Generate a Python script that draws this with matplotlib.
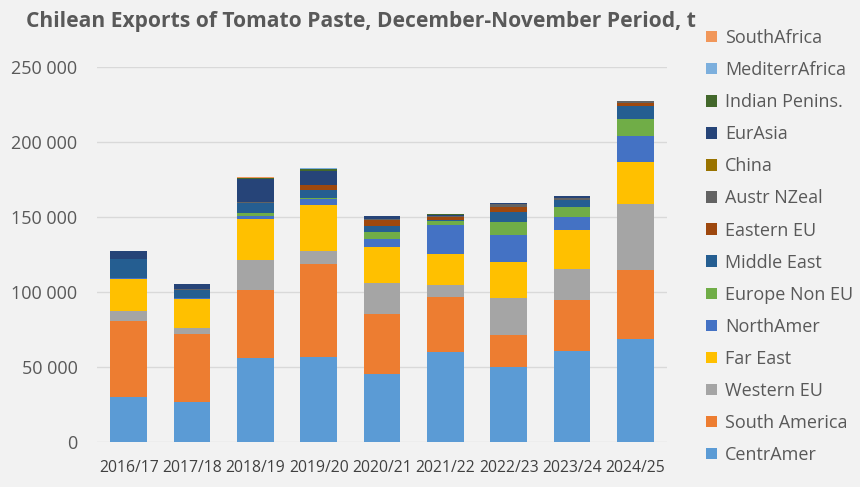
import numpy as np
import matplotlib.pyplot as plt
from matplotlib.ticker import FuncFormatter

# seasons on x axis
years = ["2016/17", "2017/18", "2018/19", "2019/20", "2020/21",
         "2021/22", "2022/23", "2023/24", "2024/25"]

# tonnes per destination (bottom to top of stack)
centr_amer = [30200, 26700, 56200, 56900, 45300, 60200, 49800, 60700, 68700]
south_america = [50800, 45300, 45100, 61500, 40300, 36700, 21800, 34200, 46000]
western_eu = [6300, 4000, 20000, 8900, 20400, 7800, 24600, 20400, 44000]
far_east = [21400, 19100, 27100, 30700, 24000, 20600, 24000, 26000, 28200]
north_amer = [400, 800, 2500, 3800, 5300, 19100, 17600, 8700, 17100]
europe_non_eu = [300, 400, 1800, 700, 4700, 2900, 9100, 6700, 11300]
middle_east = [12600, 5000, 6400, 5500, 4000, 1000, 6700, 4600, 8700]
eastern_eu = [0, 300, 0, 3100, 4000, 1500, 3300, 300, 2200]
austr_nzeal = [300, 700, 1100, 500, 400, 1000, 1800, 1100, 1100]
china = [0, 0, 0, 0, 0, 200, 0, 0, 0]
eurasia = [5300, 3000, 14900, 9100, 2000, 500, 500, 1500, 300]
indian_penins = [0, 0, 800, 1200, 0, 300, 0, 0, 0]
mediterr_africa = [0, 0, 300, 500, 0, 0, 300, 0, 0]
south_africa = [0, 0, 700, 0, 0, 0, 0, 0, 0]

series = [
    ("CentrAmer", centr_amer, "#5B9BD5"),
    ("South America", south_america, "#ED7D31"),
    ("Western EU", western_eu, "#A5A5A5"),
    ("Far East", far_east, "#FFC000"),
    ("NorthAmer", north_amer, "#4472C4"),
    ("Europe Non EU", europe_non_eu, "#70AD47"),
    ("Middle East", middle_east, "#255E91"),
    ("Eastern EU", eastern_eu, "#9E480E"),
    ("Austr NZeal", austr_nzeal, "#636363"),
    ("China", china, "#997300"),
    ("EurAsia", eurasia, "#264478"),
    ("Indian Penins.", indian_penins, "#43682B"),
    ("MediterrAfrica", mediterr_africa, "#7CAFDD"),
    ("SouthAfrica", south_africa, "#F1975A"),
]

plt.rcParams['font.family'] = ['Open Sans', 'DejaVu Sans']
txt = "#595959"

fig = plt.figure(figsize=(8.6, 4.87), dpi=100)
fig.patch.set_facecolor("#F2F2F2")
ax = fig.add_axes([97 / 860, 45 / 487, 570 / 860, 375 / 487])
ax.set_facecolor("#F2F2F2")

x = np.arange(len(years))
bottom = np.zeros(len(years))
handles = []
for name, vals, col in series:
    b = ax.bar(x, vals, 0.58, bottom=bottom, color=col, label=name,
               zorder=3, linewidth=0)
    handles.append(b)
    bottom += np.array(vals)

ax.set_xlim(-0.5, len(years) - 0.5)
ax.set_ylim(0, 250000)
ax.set_yticks(range(0, 250001, 50000))
ax.yaxis.set_major_formatter(
    FuncFormatter(lambda v, p: f"{int(v):,}".replace(",", " ")))
ax.set_xticks(x)
ax.set_xticklabels(years)
ax.grid(axis="y", color="#D9D9D9", linewidth=1, zorder=0)
ax.tick_params(length=0, colors=txt)
ax.tick_params(axis="x", labelsize=11.3, pad=13, labelcolor="#404040")
ax.tick_params(axis="y", labelsize=13, pad=14)
for s in ax.spines.values():
    s.set_visible(False)

fig.text(26 / 860, 1 - 22 / 487,
         "Chilean Exports of Tomato Paste, December-November Period, t",
         fontsize=15.1, fontweight="bold", color=txt, va="center")

leg = fig.legend(handles[::-1], [s[0] for s in series][::-1],
                 loc="upper left", bbox_to_anchor=(706 / 860, 1 - 29 / 487),
                 frameon=False, fontsize=13, labelspacing=0.78,
                 handlelength=0.6, handleheight=0.6, handletextpad=0.45,
                 borderaxespad=0, borderpad=0)
for t in leg.get_texts():
    t.set_color(txt)

fig.savefig("out.png", dpi=100, facecolor=fig.get_facecolor())
